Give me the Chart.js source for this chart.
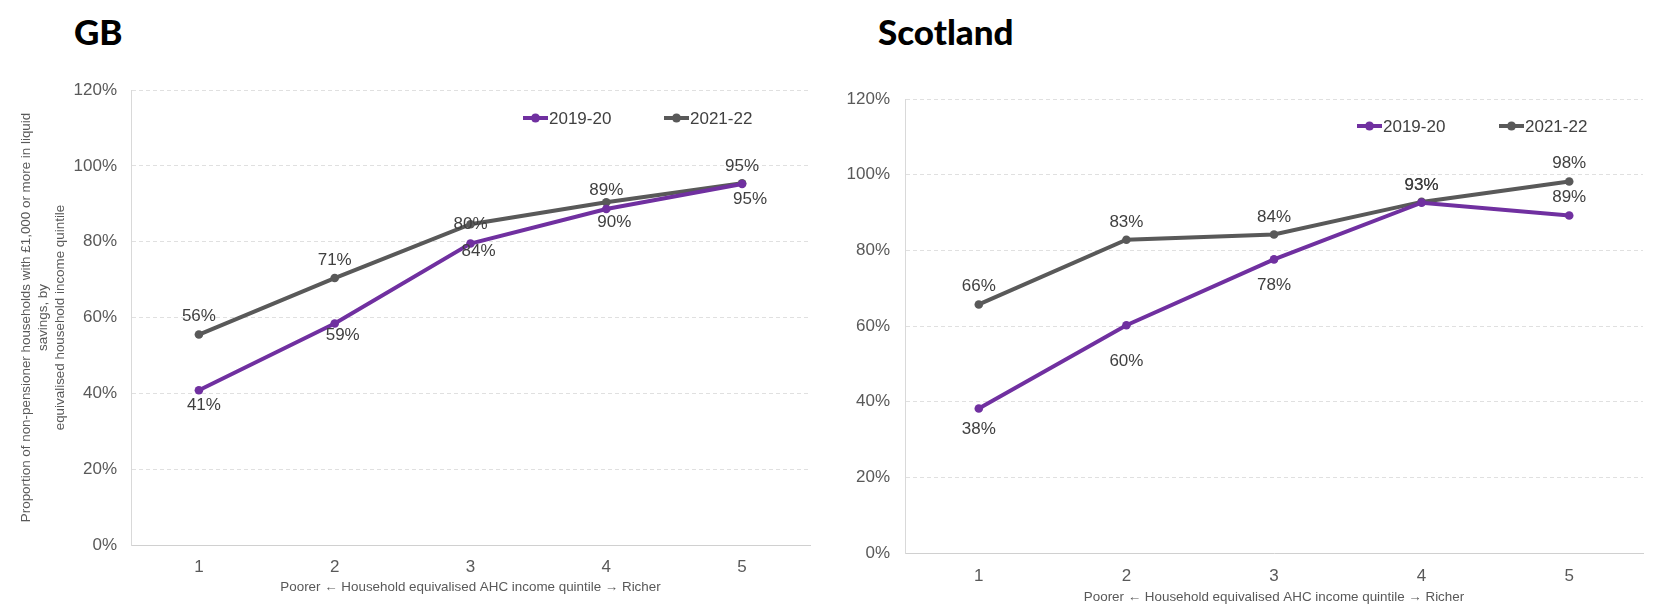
<!DOCTYPE html>
<html>
<head>
<meta charset="utf-8">
<script src="https://cdn.jsdelivr.net/npm/chart.js@4.4.1/dist/chart.umd.min.js"></script>
<style>
  html, body { margin: 0; padding: 0; background: #fff; }
  #wrap { position: relative; width: 1660px; height: 613px; overflow: hidden; }
  .title { position: absolute; top: 10px; font: 900 35px Lato, "Liberation Sans", sans-serif; color: #000; line-height: 1.2; }
  #gbBox { position: absolute; left: 0; top: 0; width: 840px; height: 613px; }
  #scBox { position: absolute; left: 840px; top: 0; width: 820px; height: 613px; }
</style>
</head>
<body>
<div id="wrap">
  <div class="title" style="left:74px">GB</div>
  <div class="title" style="left:878px">Scotland</div>
  <div id="gbBox"><canvas id="gbChart"></canvas></div>
  <div id="scBox"><canvas id="scChart"></canvas></div>
</div>
<script>
/* ============================
   DATA
============================ */
const quintiles = ['1', '2', '3', '4', '5'];
const seriesNames = ['2019-20', '2021-22'];

const gb2019 = [40.8, 58.4, 79.5, 88.6, 95.2];
const gb2021 = [55.5, 70.4, 84.6, 90.4, 95.4];
const gb2019Labels = ['41%', '59%', '84%', '90%', '95%'];
const gb2021Labels = ['56%', '71%', '80%', '89%', '95%'];

const sc2019 = [38.2, 60.2, 77.6, 92.6, 89.2];
const sc2021 = [65.7, 82.8, 84.2, 92.8, 98.2];
const sc2019Labels = ['38%', '60%', '78%', '93%', '89%'];
const sc2021Labels = ['66%', '83%', '84%', '93%', '98%'];

const yAxisTitle = [
    'Proportion of non-pensioner households with £1,000 or more in liquid',
    'savings, by',
    'equivalised household income quintile'
];
const xAxisTitle = 'Poorer \u2190 Household equivalised AHC income quintile \u2192 Richer';

const PURPLE = '#7030A0';
const GREY = '#595959';
const FONT = '"Liberation Sans", Arial, sans-serif';

/* ============================
   PLUGINS
============================ */
// point labels, offsets given per dataset
const pointLabels = {
    id: 'pointLabels',
    afterDatasetsDraw(chart) {
        const ctx = chart.ctx;
        ctx.save();
        ctx.font = '17px ' + FONT;
        ctx.fillStyle = '#404040';
        ctx.textAlign = 'center';
        ctx.textBaseline = 'middle';
        chart.data.datasets.forEach((ds, i) => {
            chart.getDatasetMeta(i).data.forEach((pt, j) => {
                const [dx, dy] = ds.labelOffsets[j];
                ctx.fillText(ds.labels[j], pt.x + dx, pt.y + dy);
            });
        });
        ctx.restore();
    }
};

// legend drawn inside the plot area
const innerLegend = {
    id: 'innerLegend',
    afterDraw(chart, args, opts) {
        const ctx = chart.ctx;
        const area = chart.chartArea;
        ctx.save();
        chart.data.datasets.forEach((ds, i) => {
            const x = area.left + opts.xs[i];
            const y = area.top + opts.dy;
            ctx.strokeStyle = ds.borderColor;
            ctx.lineWidth = 4;
            ctx.beginPath();
            ctx.moveTo(x, y);
            ctx.lineTo(x + 25, y);
            ctx.stroke();
            ctx.fillStyle = ds.borderColor;
            ctx.beginPath();
            ctx.arc(x + 12.5, y, 4.5, 0, Math.PI * 2);
            ctx.fill();
            ctx.font = '17px ' + FONT;
            ctx.fillStyle = '#404040';
            ctx.textAlign = 'left';
            ctx.textBaseline = 'middle';
            ctx.fillText(ds.label, x + 26, y + 1);
        });
        ctx.restore();
    }
};

/* ============================
   BUILD CHART
============================ */
function makeChart(canvas, cfg) {
    const dataset = (label, data, labels, color, offsets) => ({
        label, data, labels,
        labelOffsets: offsets,
        borderColor: color,
        backgroundColor: color,
        borderWidth: 4,
        pointRadius: 4.3,
        pointBackgroundColor: color,
        pointBorderWidth: 0,
        tension: 0
    });

    return new Chart(canvas, {
        type: 'line',
        data: {
            labels: quintiles,
            datasets: [
                dataset(seriesNames[0], cfg.a, cfg.aLabels, PURPLE, cfg.aOffsets),
                dataset(seriesNames[1], cfg.b, cfg.bLabels, GREY, cfg.bOffsets)
            ]
        },
        options: {
            responsive: true,
            maintainAspectRatio: false,
            animation: false,
            layout: { padding: { top: cfg.top, right: cfg.right, bottom: 0, left: 0 } },
            plugins: {
                legend: { display: false },
                tooltip: { enabled: false },
                innerLegend: cfg.legend
            },
            scales: {
                x: {
                    offset: true,
                    grid: { display: false, drawTicks: false },
                    border: { display: true, color: '#d0d0d0', width: 1 },
                    ticks: { color: GREY, font: { family: FONT, size: 17 }, padding: cfg.xTickPad },
                    title: {
                        display: true,
                        text: xAxisTitle,
                        color: GREY,
                        font: { family: FONT, size: 13.4 },
                        padding: { top: 0, bottom: cfg.xTitlePad }
                    },
                    afterFit: s => { s.height = cfg.xHeight; }
                },
                y: {
                    min: 0,
                    max: 120,
                    ticks: {
                        stepSize: 20,
                        color: GREY,
                        padding: cfg.yTickPad,
                        font: { family: FONT, size: 17 },
                        callback: v => v + '%'
                    },
                    grid: { color: '#e0e0e0', drawTicks: false },
                    border: { display: true, color: '#d9d9d9', width: 1, dash: [4, 3] },
                    title: {
                        display: !!cfg.yTitle,
                        text: cfg.yTitle || '',
                        color: GREY,
                        font: { family: FONT, size: 13.4, lineHeight: 1.25 },
                        padding: { top: 18, bottom: 0 }
                    },
                    afterFit: s => { s.width = cfg.yWidth; }
                }
            }
        },
        plugins: [pointLabels, innerLegend]
    });
}

/* ============================
   INITIALIZE
============================ */
makeChart(document.getElementById('gbChart'), {
    a: gb2019, aLabels: gb2019Labels,
    b: gb2021, bLabels: gb2021Labels,
    aOffsets: [[5, 15], [8, 12], [8, 8], [8, 13], [8, 15]],
    bOffsets: [[0, -18], [0, -18], [0, 0], [0, -12], [0, -17]],
    top: 90, right: 30, yWidth: 131, yTickPad: 14, yTitle: yAxisTitle,
    xHeight: 68, xTickPad: 12, xTitlePad: 18,
    legend: { xs: [392, 533], dy: 28 }
});

makeChart(document.getElementById('scChart'), {
    a: sc2019, aLabels: sc2019Labels,
    b: sc2021, bLabels: sc2021Labels,
    aOffsets: [[0, 21], [0, 36], [0, 26], [0, -17], [0, -18]],
    bOffsets: [[0, -18], [0, -17], [0, -17], [0, -17], [0, -18]],
    top: 99, right: 17, yWidth: 65, yTickPad: 15, yTitle: null,
    xHeight: 60, xTickPad: 13, xTitlePad: 8,
    legend: { xs: [452, 594], dy: 27 }
});
</script>
</body>
</html>
